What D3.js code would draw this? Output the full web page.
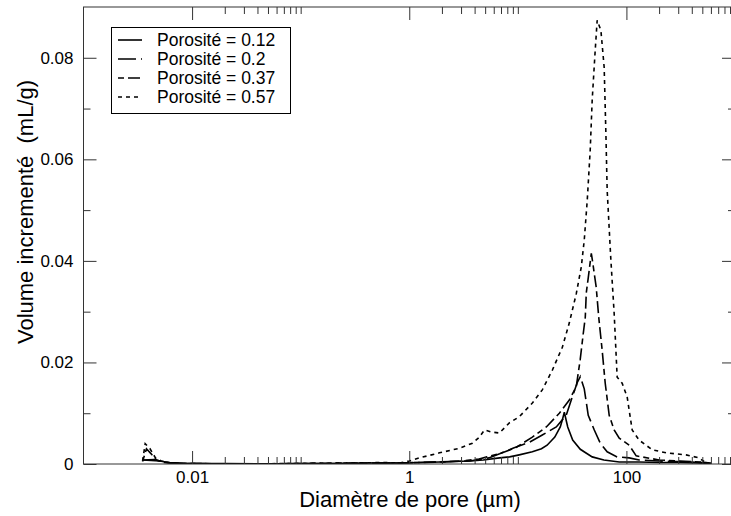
<!DOCTYPE html>
<html><head><meta charset="utf-8">
<script src="https://cdn.jsdelivr.net/npm/d3@7"></script>
<style>
body{margin:0;background:#fff}
text{font-family:"Liberation Sans",Arial,Helvetica,sans-serif;fill:#000}
</style>
</head><body><svg id="c" width="731" height="516"></svg>
<script>
// ---- data (diameter in µm, incremental volume in mL/g) ----
const seriesNames = ["Porosité = 0.12", "Porosité = 0.2", "Porosité = 0.37", "Porosité = 0.57"];

const diam012 = [0.0035,0.0042,0.005,0.0062,0.0078,0.0095,0.02,0.05,0.1,0.2,0.4,0.81,1.3,1.9,2.6,3.6,4.8,6.8,8.4,10.3,13.6,16.5,18.6,21.9,24.6,25.8,26.8,28.8,32,37.6,48.4,62,86,131,200,300,450,600];
const vol012  = [0.0008,0.0007,0.0006,0.0003,0.0002,0.0001,0.0001,0.0000,0.0001,0.0001,0.0002,0.0002,0.0003,0.0004,0.0005,0.0006,0.0008,0.0012,0.0014,0.0018,0.0024,0.0030,0.0037,0.0053,0.0073,0.0088,0.0102,0.0073,0.0047,0.0029,0.0014,0.0008,0.0004,0.0004,0.0003,0.0003,0.0002,0.0001];

const diam020 = [0.0035,0.0045,0.0055,0.007,0.01,0.03,0.1,0.3,0.81,1.9,3.6,5.4,6.8,9,12.8,16.8,22.6,27.9,31.7,35.2,37.6,40.9,44.5,50.6,57.4,66.5,82,106,131,200,380,600];
const vol020  = [0.0008,0.0009,0.0004,0.0001,0.0001,0.0000,0.0001,0.0001,0.0002,0.0004,0.0006,0.0012,0.0020,0.0031,0.0043,0.0057,0.0073,0.0096,0.0132,0.0160,0.0172,0.0148,0.0096,0.0067,0.0041,0.0024,0.0014,0.0012,0.0008,0.0006,0.0004,0.0002];

const diam037 = [0.0035,0.0038,0.0042,0.0047,0.0055,0.007,0.01,0.03,0.1,0.3,0.81,1.3,2,3,4.4,5.2,7.2,9.7,13.6,18.3,24.1,29.8,34.5,37.5,40.1,41.8,42.7,44.6,47.5,49,52.7,55.6,59.8,63.8,69.4,77.1,85.9,106,123,200,467,600];
const vol037  = [0.0005,0.0030,0.0020,0.0008,0.0003,0.0001,0.0001,0.0000,0.0001,0.0002,0.0002,0.0003,0.0004,0.0006,0.0010,0.0014,0.0022,0.0033,0.0053,0.0073,0.0100,0.0126,0.0152,0.0205,0.0258,0.0289,0.0337,0.0368,0.0415,0.0396,0.0348,0.0289,0.0224,0.0159,0.0096,0.0067,0.0051,0.0037,0.0016,0.0008,0.0004,0.0002];

const diam057 = [0.0035,0.0037,0.0041,0.0046,0.0052,0.006,0.008,0.02,0.1,0.3,0.6,0.81,1.0,1.24,1.9,2.9,3.82,4.43,4.92,5.7,6.76,8.35,10.3,13.6,16.8,20.8,25.7,29.8,34.5,38.4,40.9,43.6,46.4,48.4,51.6,53.8,58.2,62.4,64.7,66.5,71.9,77.1,82.2,91.4,101.6,113,131,173,232,354,467,541];
const vol057  = [0.0006,0.0040,0.0030,0.0012,0.0006,0.0003,0.0001,0.0000,0.0001,0.0002,0.0003,0.0002,0.0006,0.0012,0.0022,0.0031,0.0041,0.0053,0.0067,0.0063,0.0061,0.0081,0.0093,0.0120,0.0146,0.0185,0.0230,0.0278,0.0335,0.0388,0.0441,0.0520,0.0618,0.0717,0.0815,0.0874,0.0854,0.0781,0.0652,0.0539,0.0402,0.0297,0.0171,0.0159,0.0132,0.0067,0.0047,0.0028,0.0022,0.0018,0.0012,0.0002];

const xMajorTicks = [0.01, 1, 100];
const xTickLabels = ["0.01", "1", "100"];
const xMinorTicks = [0.02,0.03,0.04,0.05,0.06,0.07,0.08,0.09,0.1, 2,3,4,5,6,7,8,9,10, 200,300,400,500,600,700,800,900];
const yMajorTicks = [0, 0.02, 0.04, 0.06, 0.08];
const yTickLabels = ["0", "0.02", "0.04", "0.06", "0.08"];
const yMinorTicks = [0.01, 0.03, 0.05, 0.07];
const xTitle = "Diamètre de pore (µm)";
const yTitle = "Volume incrementé\u00a0\u00a0(mL/g)";

// ---- layout ----
const L = 83.5, R = 735, T = 7, B = 464;
const svg = d3.select("#c");
const x = d3.scaleLog().domain([0.001, 1000]).range([L, R]);
const y = d3.scaleLinear().domain([0, 0.09]).range([B, T]);

const series = [
  {name: seriesNames[0], d: diam012, v: vol012, dash: null},
  {name: seriesNames[1], d: diam020, v: vol020, dash: "18,5"},
  {name: seriesNames[2], d: diam037, v: vol037, dash: "6,4,12,4"},
  {name: seriesNames[3], d: diam057, v: vol057, dash: "4,4"}
];

svg.append("defs").append("clipPath").attr("id","clip")
  .append("rect").attr("x", L).attr("y", T).attr("width", R-L).attr("height", B-T);

const line = d3.line().x(p => x(p[0])).y(p => y(p[1]));
const g = svg.append("g").attr("clip-path","url(#clip)");
series.forEach(s => {
  g.append("path")
    .datum(s.d.map((dd,i) => [dd, s.v[i]]))
    .attr("d", line)
    .attr("fill","none").attr("stroke","#000").attr("stroke-width",1.6)
    .attr("stroke-dasharray", s.dash);
});

// ---- axes ----
const tickCol = "#333";
function style(sel){ sel.select(".domain").remove(); sel.selectAll("line").attr("stroke", tickCol); }
const fmtX = d => xTickLabels[xMajorTicks.indexOf(d)];
const fmtY = d => yTickLabels[yMajorTicks.indexOf(d)];

svg.append("g").attr("transform",`translate(0,${B})`)
  .call(d3.axisBottom(x).tickValues(xMajorTicks).tickSize(-13).tickPadding(7).tickFormat(fmtX))
  .call(style).selectAll("text").attr("font-size",17).attr("font-family","Liberation Sans, Arial, sans-serif");
svg.append("g").attr("transform",`translate(0,${B})`)
  .call(d3.axisBottom(x).tickValues(xMinorTicks).tickSize(-7).tickFormat("")).call(style);
svg.append("g").attr("transform",`translate(0,${T})`)
  .call(d3.axisTop(x).tickValues(xMajorTicks).tickSize(-13).tickFormat("")).call(style);
svg.append("g").attr("transform",`translate(0,${T})`)
  .call(d3.axisTop(x).tickValues(xMinorTicks).tickSize(-7).tickFormat("")).call(style);

svg.append("g").attr("transform",`translate(${L},0)`)
  .call(d3.axisLeft(y).tickValues(yMajorTicks).tickSize(-13).tickPadding(10).tickFormat(fmtY))
  .call(style).selectAll("text").attr("font-size",17).attr("font-family","Liberation Sans, Arial, sans-serif");
svg.append("g").attr("transform",`translate(${L},0)`)
  .call(d3.axisLeft(y).tickValues(yMinorTicks).tickSize(-7).tickFormat("")).call(style);
svg.append("g").attr("transform",`translate(${R},0)`)
  .call(d3.axisRight(y).tickValues(yMajorTicks).tickSize(-13).tickFormat("")).call(style);
svg.append("g").attr("transform",`translate(${R},0)`)
  .call(d3.axisRight(y).tickValues(yMinorTicks).tickSize(-7).tickFormat("")).call(style);

// frame
svg.append("rect").attr("x",L).attr("y",T).attr("width",R-L).attr("height",B-T)
  .attr("fill","none").attr("stroke",tickCol).attr("stroke-width",1);

// titles
svg.append("text").attr("x", 410).attr("y", 507).attr("text-anchor","middle")
  .attr("font-size",22).text(xTitle);
svg.append("text").attr("transform","translate(33,212) rotate(-90)").attr("text-anchor","middle")
  .attr("font-size",22).text(yTitle);

// legend
const lg = svg.append("g");
lg.append("rect").attr("x",111.5).attr("y",27.5).attr("width",179).attr("height",86)
  .attr("fill","#fff").attr("stroke","#000").attr("stroke-width",1);
series.forEach((s,i) => {
  const yy = 40 + i*19;
  lg.append("line").attr("x1",118).attr("x2",142).attr("y1",yy).attr("y2",yy)
    .attr("stroke","#000").attr("stroke-width",1.6).attr("stroke-dasharray", s.dash);
  lg.append("text").attr("x",157).attr("y",yy+6).attr("font-size",17.5).text(s.name);
});
</script>
</body></html>
